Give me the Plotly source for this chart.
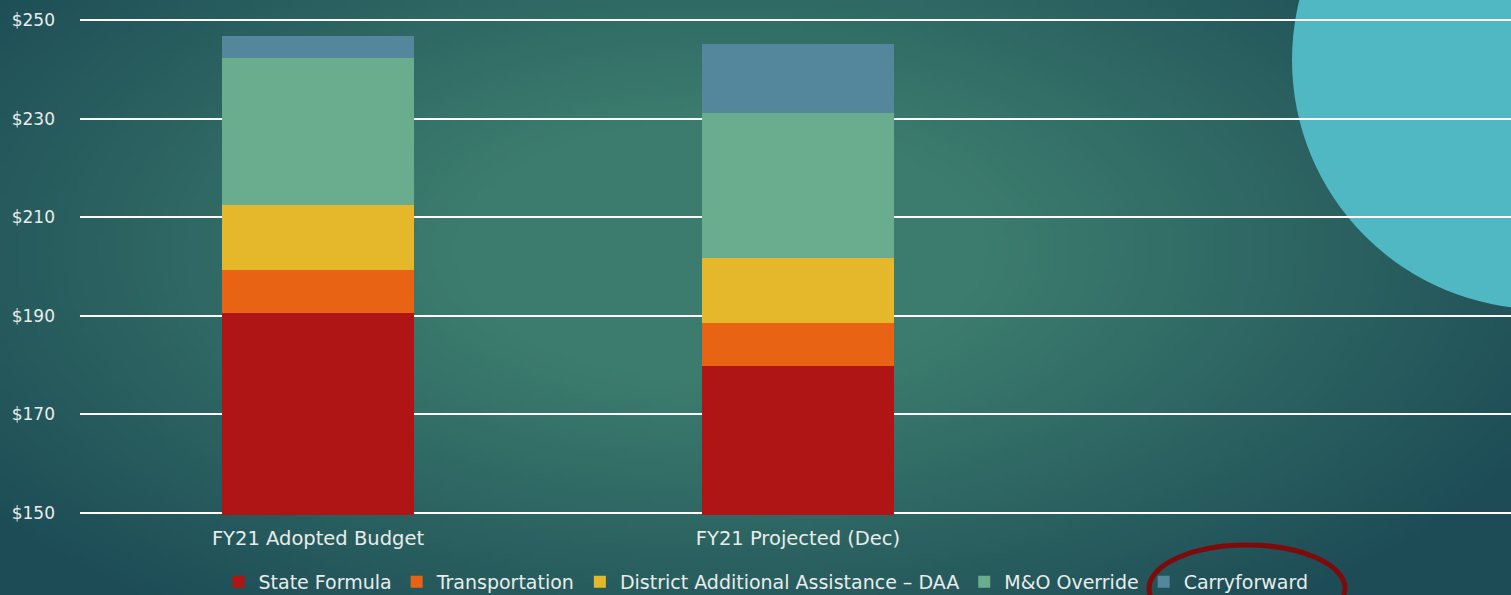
import base64
import struct
import zlib

import numpy as np
import plotly.graph_objects as go

# ---------------- data ----------------
categories = ["FY21 Adopted Budget", "FY21 Projected (Dec)", " "]
state_formula = [190.6, 179.9, None]
transportation = [8.7, 8.6, None]
daa = [13.2, 13.2, None]
mo_override = [29.8, 29.4, None]
carryforward = [4.5, 14.0, None]

series_names = ["State Formula", "Transportation", "District Additional Assistance – DAA",
                "M&O Override", "Carryforward"]
series_values = [state_formula, transportation, daa, mo_override, carryforward]
series_colors = ["#b01515", "#e86414", "#e5b72a", "#6aad8e", "#55879c"]

tick_vals = [150, 170, 190, 210, 230, 250]
tick_text = ["$150", "$170", "$190", "$210", "$230", "$250"]

# ---------------- background gradient image ----------------
W, H = 1511, 595
iw, ih = 302, 119
xs = np.linspace(0, W, iw)
ys = np.linspace(0, H, ih)
X, Y = np.meshgrid(xs, ys)
dx = (X - 720) / 900.0
dy = (Y - 250) / 450.0
d = np.sqrt(dx ** 2 + dy ** 2)
t = np.clip((d - 0.3) / 0.72, 0, 1)
light = np.array([0x3c, 0x7c, 0x6e], dtype=float)
dark = np.array([0x1d, 0x4c, 0x56], dtype=float)
img = (light[None, None, :] * (1 - t[..., None]) + dark[None, None, :] * t[..., None]).astype(np.uint8)


def png_bytes(arr):
    h, w, _ = arr.shape
    raw = b"".join(b"\x00" + arr[r].tobytes() for r in range(h))

    def chunk(tag, data):
        c = struct.pack(">I", len(data)) + tag + data
        return c + struct.pack(">I", zlib.crc32(tag + data) & 0xFFFFFFFF)

    return (b"\x89PNG\r\n\x1a\n"
            + chunk(b"IHDR", struct.pack(">IIBBBBB", w, h, 8, 2, 0, 0, 0))
            + chunk(b"IDAT", zlib.compress(raw, 9))
            + chunk(b"IEND", b""))


bg_uri = "data:image/png;base64," + base64.b64encode(png_bytes(img)).decode()

# ---------------- figure ----------------
fig = go.Figure()
for name, vals, col in zip(series_names, series_values, series_colors):
    fig.add_trace(go.Bar(name=name, x=categories, y=vals, marker=dict(color=col, line=dict(width=0))))

# plot area: y=150 at pixel 513, y=250 at pixel 20 ; pad range slightly so edge gridlines show
y_lo, y_hi = 149.6, 250.4
px_per = (513 - 20) / 100.0
ml, mr = 80, 0
mt = int(round(20 - (y_hi - 250) * px_per))
mb = int(round(H - (513 + (150 - y_lo) * px_per)))
pw, ph = W - ml - mr, H - mt - mb

# category slots are 480 px wide, first slot centred at x=318 px
slot_px = 480.0
x_lo = -(318 - ml) / slot_px
x_hi = x_lo + pw / slot_px


def px_x(p):
    return (p - ml) / pw


def px_y(p):
    return (H - mb - p) / ph


FONT = "'DejaVu Sans', Lato, sans-serif"
TXT = "#e8ecea"

fig.update_layout(
    width=W, height=H,
    margin=dict(l=ml, r=mr, t=mt, b=mb, pad=0, autoexpand=False),
    barmode="stack",
    bargap=0.598,
    paper_bgcolor="#2a6464",
    plot_bgcolor="rgba(0,0,0,0)",
    font=dict(family=FONT, color=TXT, size=18),
    showlegend=True,
    legend=dict(orientation="h", x=px_x(766), xanchor="center", y=px_y(582), yanchor="middle",
                font=dict(family=FONT, size=19, color=TXT), bgcolor="rgba(0,0,0,0)",
                traceorder="normal", itemwidth=30),
    xaxis=dict(categoryorder="array", categoryarray=categories, range=[x_lo, x_hi],
               showgrid=False, zeroline=False, showline=False, ticks="",
               ticklabelstandoff=9,
               tickfont=dict(family=FONT, size=19.5, color=TXT)),
    yaxis=dict(range=[y_lo, y_hi], tickvals=tick_vals, ticktext=tick_text,
               showgrid=True, gridcolor="#ffffff", gridwidth=2, zeroline=False,
               showline=False, ticks="", ticklabelstandoff=24,
               tickfont=dict(family=FONT, size=17, color=TXT)),
    images=[dict(source=bg_uri, xref="paper", yref="paper",
                 x=px_x(0), y=px_y(0), sizex=W / pw, sizey=H / ph,
                 xanchor="left", yanchor="top", sizing="stretch", layer="below")],
    shapes=[
        dict(type="circle", xref="paper", yref="paper", layer="below",
             x0=px_x(1292), x1=px_x(1790), y0=px_y(309), y1=px_y(-189),
             fillcolor="#4fb8c2", line=dict(width=0)),
        dict(type="circle", xref="paper", yref="paper", layer="above",
             x0=px_x(1149), x1=px_x(1345), y0=px_y(632), y1=px_y(545),
             fillcolor="rgba(0,0,0,0)", line=dict(color="#7e0b0b", width=5)),
    ],
)

fig.write_html("out.html", config={"displayModeBar": False},
               post_script="document.body.style.margin='0';document.body.style.overflow='hidden';")
